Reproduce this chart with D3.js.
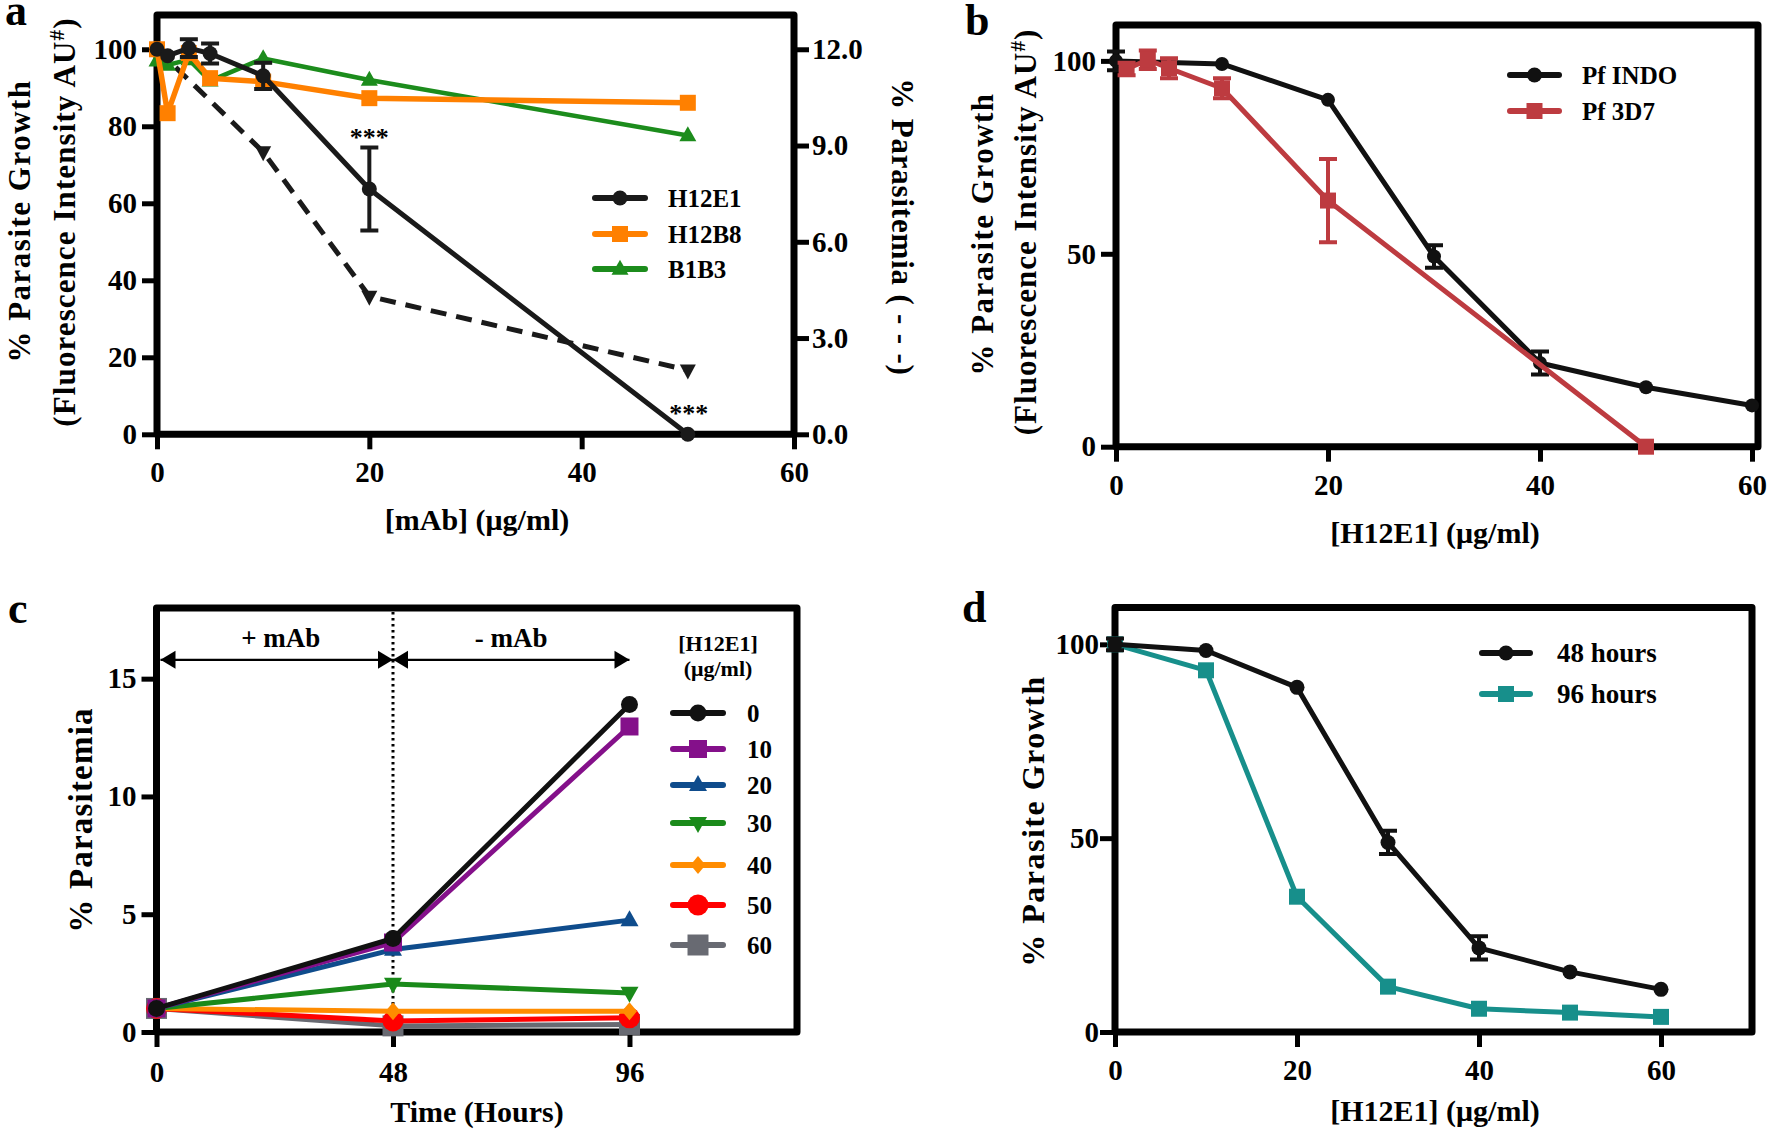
<!DOCTYPE html>
<html><head><meta charset="utf-8">
<script src="https://cdn.jsdelivr.net/npm/d3@7"></script>
<style>
html,body{margin:0;padding:0;background:#fff;}
svg{display:block;}
</style></head><body>
<svg id="chart" width="1771" height="1139"></svg>
<script>
// ---------------- Panel a ----------------
const aDose = [0, 1, 3, 5, 10, 20, 50];
const aH12E1 = [100, 98.3, 100.3, 98.9, 93.1, 63.7, 0];
const aH12E1Err = [0, 0, 2.3, 2.6, 3.4, 10.8, 0];
const aH12B8 = [100, 83.4, 99, 92.5, 91.6, 87.3, 86.1];
const aB1B3 = [97, 95.9, 97.3, 91.8, 97.6, 92, 77.6];
const aParaDose = [0, 10, 20, 50];
const aParasitemia = [12.0, 8.8, 4.3, 2.0];
const aXTicks = [0, 20, 40, 60];
const aYTicks = [0, 20, 40, 60, 80, 100];
const aY2Ticks = [0, 3, 6, 9, 12];
const aLegend = ["H12E1", "H12B8", "B1B3"];
const aStarDose = [20, 50];

// ---------------- Panel b ----------------
const bIndoDose = [0, 10, 20, 30, 40, 50, 60];
const bIndo = [100, 99.2, 89.9, 49.3, 21.7, 15.4, 10.7];
const bIndoErr = [2.4, 0, 0, 2.9, 3.0, 0, 0];
const b3d7Dose = [1, 3, 5, 10, 20, 50];
const b3d7 = [97.9, 100.3, 98.1, 92.9, 63.8, 0];
const b3d7Err = [1.6, 2.4, 2.6, 2.6, 10.8, 0];
const bXTicks = [0, 20, 40, 60];
const bYTicks = [0, 50, 100];
const bLegend = ["Pf INDO", "Pf 3D7"];

// ---------------- Panel c ----------------
const cTime = [0, 48, 96];
const cConc = ["0", "10", "20", "30", "40", "50", "60"];
const cP0 = [1.0, 3.97, 13.9];
const cP10 = [1.0, 3.8, 12.97];
const cP20 = [1.0, 3.5, 4.75];
const cP30 = [1.0, 2.04, 1.66];
const cP40 = [1.0, 0.88, 0.88];
const cP50 = [1.0, 0.47, 0.6];
const cP60 = [1.0, 0.26, 0.32];
const cXTicks = [0, 48, 96];
const cYTicks = [0, 5, 10, 15];

// ---------------- Panel d ----------------
const dDose = [0, 10, 20, 30, 40, 50, 60];
const d48h = [100, 98.4, 88.9, 48.9, 21.7, 15.5, 11.0];
const d48hErr = [1.5, 0, 0, 3.0, 3.0, 0, 0];
const d96h = [100, 93.3, 34.9, 11.7, 6.0, 5.0, 3.9];
const dXTicks = [0, 20, 40, 60];
const dYTicks = [0, 50, 100];
const dLegend = ["48 hours", "96 hours"];

// ================= drawing =================
const FONT = "'Liberation Serif','Times New Roman',Times,serif";
const svg = d3.select("#chart");
svg.append("rect").attr("width", 1771).attr("height", 1139).attr("fill", "#fff");

function shape(spec) {
  const t = spec[0], a = spec[1], b = spec[2] || spec[1];
  if (t === "circle") return `M${-a},0A${a},${a} 0 1,0 ${a},0A${a},${a} 0 1,0 ${-a},0Z`;
  if (t === "square") return `M${-a/2},${-a/2}H${a/2}V${a/2}H${-a/2}Z`;
  if (t === "tri") return `M0,${-b*0.62}L${a/2},${b*0.38}L${-a/2},${b*0.38}Z`;
  if (t === "tridown") return `M0,${b*0.62}L${a/2},${-b*0.38}L${-a/2},${-b*0.38}Z`;
  if (t === "diamond") return `M0,${-b/2}L${a/2},0L0,${b/2}L${-a/2},0Z`;
}

function styleAxis(sel, size) {
  sel.select(".domain").remove();
  sel.selectAll(".tick line").attr("stroke", "#000").attr("stroke-width", 5);
  sel.selectAll(".tick text").attr("font-family", FONT).attr("font-weight", "bold")
    .attr("font-size", size).attr("fill", "#000");
}

function frame(g, x0, y0, x1, y1) {
  g.append("rect").attr("x", x0).attr("y", y0).attr("width", x1 - x0).attr("height", y1 - y0)
    .attr("fill", "none").attr("stroke", "#000").attr("stroke-width", 7).attr("stroke-linejoin", "round");
}

function drawSeries(g, xs, ys, xS, yS, o) {
  const gg = g.append("g");
  const line = d3.line().x((d, i) => xS(xs[i])).y(d => yS(d));
  const p = gg.append("path").datum(ys).attr("d", line).attr("fill", "none")
    .attr("stroke", o.color).attr("stroke-width", o.width || 5).attr("stroke-linejoin", "round");
  if (o.dash) p.attr("stroke-dasharray", o.dash);
  if (o.errs) {
    ys.forEach((v, i) => {
      const e = o.errs[i]; if (!e) return;
      const cx = xS(xs[i]), y1 = yS(v + e), y2 = yS(v - e), hw = 9;
      gg.append("path").attr("d", `M${cx},${y1}V${y2}M${cx-hw},${y1}H${cx+hw}M${cx-hw},${y2}H${cx+hw}`)
        .attr("stroke", o.color).attr("stroke-width", 4).attr("fill", "none");
    });
  }
  gg.selectAll("path.mk").data(ys).join("path").attr("class", "mk")
    .attr("d", shape(o.shape))
    .attr("transform", (d, i) => `translate(${xS(xs[i])},${yS(d)})`)
    .attr("fill", o.color);
}

function text(g, x, y, s, size, opts = {}) {
  const t = g.append("text").attr("font-family", FONT).attr("font-weight", "bold")
    .attr("font-size", size).attr("fill", "#000")
    .attr("text-anchor", opts.anchor || "middle");
  if (opts.rot) t.attr("transform", `translate(${x},${y}) rotate(${opts.rot})`);
  else t.attr("x", x).attr("y", y);
  if (opts.ls) t.attr("letter-spacing", opts.ls);
  if (opts.dy) t.attr("dy", opts.dy);
  t.text(s);
  return t;
}

function legendItem(g, x1, x2, y, color, shp, label, tx, size) {
  g.append("line").attr("x1", x1).attr("x2", x2).attr("y1", y).attr("y2", y)
    .attr("stroke", color).attr("stroke-width", 6).attr("stroke-linecap", "round");
  g.append("path").attr("d", shape(shp)).attr("transform", `translate(${(x1 + x2) / 2},${y})`).attr("fill", color);
  text(g, tx, y, label, size, { anchor: "start", dy: "0.34em" });
}

// ---------- Panel a ----------
{
  const g = svg.append("g");
  const x = d3.scaleLinear([0, 60], [157, 794]);
  const y = d3.scaleLinear([0, 108.9], [434.3, 15]);
  const y2 = d3.scaleLinear([0, 108.9 * 0.12], [434.3, 15]);
  g.append("g").attr("transform", `translate(0,${y(0)})`)
    .call(d3.axisBottom(x).tickValues(aXTicks).tickSize(15).tickPadding(12)).call(styleAxis, 29);
  g.append("g").attr("transform", `translate(${x(0)},0)`)
    .call(d3.axisLeft(y).tickValues(aYTicks).tickSize(15).tickPadding(5)).call(styleAxis, 29);
  g.append("g").attr("transform", `translate(${x(60)},0)`)
    .call(d3.axisRight(y2).tickValues(aY2Ticks).tickSize(15).tickPadding(3).tickFormat(d3.format(".1f"))).call(styleAxis, 29);
  frame(g, x(0), y(108.9), x(60), y(0));

  drawSeries(g, aParaDose, aParasitemia, x, y2, { color: "#1a1a1a", dash: "16,10", shape: ["tridown", 16, 15] });
  drawSeries(g, aDose, aB1B3, x, y, { color: "#1c8c1c", width: 4.5, shape: ["tri", 17, 15] });
  drawSeries(g, aDose, aH12B8, x, y, { color: "#ff8000", width: 5.5, shape: ["square", 16] });
  drawSeries(g, aDose, aH12E1, x, y, { color: "#1a1a1a", errs: aH12E1Err, shape: ["circle", 7.5] });

  // significance stars
  text(g, x(aStarDose[0]), y(aH12E1[5] + aH12E1Err[5]) - 1, "***", 26);
  text(g, x(aStarDose[1]) + 1, y(aH12E1[6]) - 12, "***", 26);

  legendItem(g, 595, 645, 198, "#1a1a1a", ["circle", 7.5], aLegend[0], 668, 25);
  legendItem(g, 595, 645, 234, "#ff8000", ["square", 16], aLegend[1], 668, 25);
  legendItem(g, 595, 645, 269, "#1c8c1c", ["tri", 17, 15], aLegend[2], 668, 25);

  text(g, 5, 25, "a", 44, { anchor: "start" });
  text(g, 30, 221, "% Parasite Growth", 31, { rot: -90, ls: 1.5 });
  const t2 = g.append("text").attr("font-family", FONT).attr("font-weight", "bold").attr("font-size", 31)
    .attr("text-anchor", "middle").attr("letter-spacing", 1.1)
    .attr("transform", "translate(75,222) rotate(-90)");
  t2.append("tspan").text("(Fluorescence Intensity AU");
  t2.append("tspan").attr("font-size", 21).attr("dy", -11).text("#");
  t2.append("tspan").attr("dy", 11).text(")");
  text(g, 892, 227, "% Parasitemia ( - - -)", 31, { rot: 90, ls: 0.8 });
  text(g, 477, 530, "[mAb] (μg/ml)", 30);
}

// ---------- Panel b ----------
{
  const g = svg.append("g");
  const x = d3.scaleLinear([0, 60], [1116, 1752]);
  const y = d3.scaleLinear([0, 109.3], [446.7, 25]);
  g.append("g").attr("transform", `translate(0,${y(0)})`)
    .call(d3.axisBottom(x).tickValues(bXTicks).tickSize(15).tickPadding(13)).call(styleAxis, 29);
  g.append("g").attr("transform", `translate(${x(0)},0)`)
    .call(d3.axisLeft(y).tickValues(bYTicks).tickSize(15).tickPadding(5)).call(styleAxis, 29);
  frame(g, x(0), y(109.3), x(60) + 6, y(0));

  drawSeries(g, bIndoDose, bIndo, x, y, { color: "#111", errs: bIndoErr, shape: ["circle", 7] });
  drawSeries(g, b3d7Dose, b3d7, x, y, { color: "#bd3b40", errs: b3d7Err, shape: ["square", 16] });

  legendItem(g, 1510, 1559, 75, "#111", ["circle", 7.5], bLegend[0], 1582, 25);
  legendItem(g, 1510, 1559, 111, "#bd3b40", ["square", 16], bLegend[1], 1582, 25);

  text(g, 965, 35, "b", 44, { anchor: "start" });
  text(g, 993, 234, "% Parasite Growth", 31, { rot: -90, ls: 1.5 });
  const t2 = g.append("text").attr("font-family", FONT).attr("font-weight", "bold").attr("font-size", 31)
    .attr("text-anchor", "middle").attr("letter-spacing", 1.0)
    .attr("transform", "translate(1036,232) rotate(-90)");
  t2.append("tspan").text("(Fluorescence Intensity AU");
  t2.append("tspan").attr("font-size", 21).attr("dy", -11).text("#");
  t2.append("tspan").attr("dy", 11).text(")");
  text(g, 1435, 543, "[H12E1] (μg/ml)", 30);
}

// ---------- Panel c ----------
{
  const g = svg.append("g");
  const x = d3.scaleLinear([0, 130], [156.5, 797]);
  const y = d3.scaleLinear([0, 18], [1032, 608]);
  g.append("g").attr("transform", `translate(0,${y(0)})`)
    .call(d3.axisBottom(x).tickValues(cXTicks).tickSize(15).tickPadding(14)).call(styleAxis, 29);
  g.append("g").attr("transform", `translate(${x(0)},0)`)
    .call(d3.axisLeft(y).tickValues(cYTicks).tickSize(15).tickPadding(5)).call(styleAxis, 29);
  frame(g, x(0), y(18), x(130), y(0));

  // dotted separator at 48 h
  g.append("line").attr("x1", x(48)).attr("x2", x(48)).attr("y1", y(18) + 4).attr("y2", y(0))
    .attr("stroke", "#000").attr("stroke-width", 3).attr("stroke-dasharray", "2.5,3.5");
  // arrows
  const ya = y(15.8);
  g.append("line").attr("x1", x(0) + 4).attr("x2", x(96)).attr("y1", ya).attr("y2", ya)
    .attr("stroke", "#000").attr("stroke-width", 2.3);
  const head = (tip, dir) => `M${tip},${ya}L${tip - dir * 15},${ya - 9}L${tip - dir * 15},${ya + 9}Z`;
  [[x(0) + 4, -1], [x(48), 1], [x(48), -1], [x(96), 1]].forEach(([t, d]) =>
    g.append("path").attr("d", head(t, d)).attr("fill", "#000"));
  text(g, x(24) + 6, 647, "+ mAb", 27);
  text(g, x(72), 647, "- mAb", 27);

  const cSeries = [cP0, cP10, cP20, cP30, cP40, cP50, cP60];
  const cColors = ["#111111", "#84108a", "#0f4c8c", "#1a8a1a", "#ff8c00", "#ff0000", "#686a72"];
  const cShapes = [["circle", 8.5], ["square", 18], ["tri", 18, 16], ["tridown", 18, 16],
                   ["diamond", 15, 18], ["circle", 10.5], ["square", 21]];
  for (let i = cSeries.length - 1; i >= 0; i--) {
    drawSeries(g, cTime, cSeries[i], x, y, { color: cColors[i], shape: cShapes[i] });
  }

  text(g, 718, 651, "[H12E1]", 22);
  text(g, 718, 676, "(μg/ml)", 22);
  const ly = [713, 749, 785, 823, 865, 905, 945];
  cConc.forEach((c, i) => legendItem(g, 673, 723, ly[i], cColors[i], cShapes[i], c, 747, 25));

  text(g, 8, 623, "c", 44, { anchor: "start" });
  text(g, 92, 820, "% Parasitemia", 33, { rot: -90, ls: 1.2 });
  text(g, 477, 1122, "Time (Hours)", 30);
}

// ---------- Panel d ----------
{
  const g = svg.append("g");
  const x = d3.scaleLinear([0, 70], [1115, 1752]);
  const y = d3.scaleLinear([0, 109.5], [1032, 607.5]);
  g.append("g").attr("transform", `translate(0,${y(0)})`)
    .call(d3.axisBottom(x).tickValues(dXTicks).tickSize(15).tickPadding(12)).call(styleAxis, 29);
  g.append("g").attr("transform", `translate(${x(0)},0)`)
    .call(d3.axisLeft(y).tickValues(dYTicks).tickSize(15).tickPadding(1)).call(styleAxis, 29);
  frame(g, x(0), y(109.5), x(70), y(0));

  drawSeries(g, dDose, d96h, x, y, { color: "#178f8b", shape: ["square", 16] });
  drawSeries(g, dDose, d48h, x, y, { color: "#111", errs: d48hErr, shape: ["circle", 7.5] });

  legendItem(g, 1482, 1530, 653, "#111", ["circle", 7.5], dLegend[0], 1557, 27);
  legendItem(g, 1482, 1530, 694, "#178f8b", ["square", 16], dLegend[1], 1557, 27);

  text(g, 962, 622, "d", 44, { anchor: "start" });
  text(g, 1044, 821, "% Parasite Growth", 32, { rot: -90, ls: 1.5 });
  text(g, 1435, 1121, "[H12E1] (μg/ml)", 30);
}
</script>
</body></html>
